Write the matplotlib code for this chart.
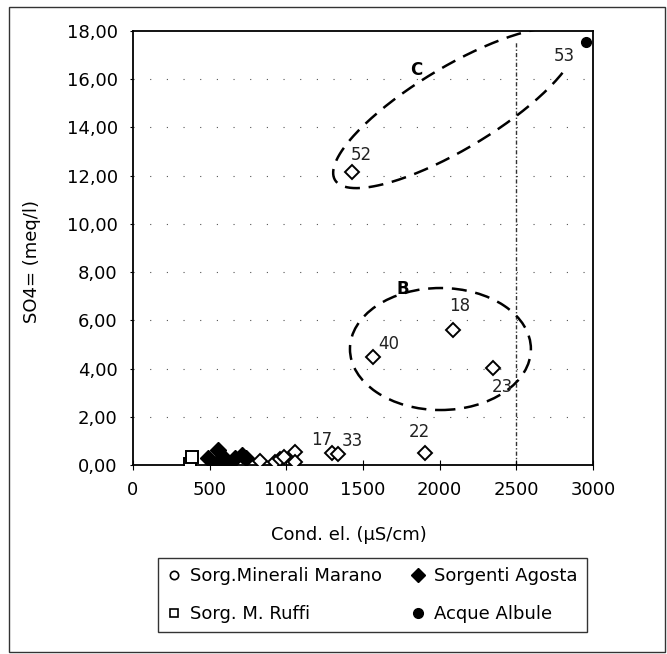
import numpy as np
import matplotlib
matplotlib.use('Agg')
import matplotlib.pyplot as plt
from matplotlib.lines import Line2D
from matplotlib.patches import Ellipse, Rectangle
from matplotlib.ticker import FuncFormatter

plt.rcParams['font.family'] = ['DejaVu Sans']

# Sorg. Minerali Marano (open diamonds)
marano_x = [828, 926, 959, 985, 1057, 1057, 1296, 1340, 1905, 1563, 2090, 2350, 1426]
marano_y = [0.18, 0.14, 0.24, 0.33, 0.55, 0.14, 0.51, 0.46, 0.51, 4.47, 5.61, 4.02, 12.17]
# Sorg. M. Ruffi (open squares)
ruffi_x = [372, 383]
ruffi_y = [0.05, 0.35]
# Sorgenti Agosta (filled diamonds)
agosta_x = [490, 545, 557, 589, 633, 665, 709, 600, 740]
agosta_y = [0.28, 0.07, 0.62, 0.35, 0.07, 0.28, 0.42, 0.2, 0.3]
# Acque Albule (filled circle)
albule_x = [2955]
albule_y = [17.55]

# point labels
lab_text = ['17', '33', '22', '40', '18', '23', '52', '53']
lab_x = [1230, 1430, 1870, 1670, 2130, 2410, 1490, 2810]
lab_y = [1.05, 0.98, 1.35, 5.0, 6.6, 3.25, 12.85, 16.95]

fig = plt.figure(figsize=(6.67, 6.54), dpi=100)
ax = fig.add_axes([133 / 667, 1 - 465 / 654, 460 / 667, 434 / 654])
ax.set_xlim(0, 3000)
ax.set_ylim(0, 18)

# sparse dotted gridlines
for yv in np.arange(2, 18, 2):
    ax.axhline(yv, color='#555555', lw=0.8, ls=(0, (1, 14)), zorder=0)

# dash-dot reference line at 2500
ax.plot([2500, 2500], [0, 17.6], color='#333333', lw=1.0, ls=(0, (3, 1.5, 1, 1.5)), zorder=1)

ax.plot(marano_x, marano_y, ls='none', marker='D', ms=7, mfc='white', mec='black', mew=1.4, zorder=3)
ax.plot(ruffi_x, ruffi_y, ls='none', marker='s', ms=8, mfc='white', mec='black', mew=1.4, zorder=3)
ax.plot(agosta_x, agosta_y, ls='none', marker='D', ms=8, mfc='black', mec='black', zorder=4)
ax.plot(albule_x, albule_y, ls='none', marker='o', ms=7, mfc='black', mec='black', zorder=4)

for t, xv, yv in zip(lab_text, lab_x, lab_y):
    ax.text(xv, yv, t, fontsize=12, ha='center', va='center', color='#222222')

# group B: dashed ellipse
ax.add_patch(Ellipse((2005, 4.81), 1180, 5.06, fill=False, ec='black', lw=1.8,
                     ls=(0, (6, 3.5)), zorder=2))
ax.text(1760, 7.3, 'B', fontsize=12, fontweight='bold', ha='center', va='center')

# group C: open tilted ellipse (drawn in pixel space)
sx = 460 / 3000
sy = 434 / 18
cx, cy = 2100, 14.81
a, b, ang = 140, 41, np.radians(31)
t = np.radians(np.linspace(33, 323, 200))
u = a * np.cos(t)
v = b * np.sin(t)
ex = cx + (u * np.cos(ang) - v * np.sin(ang)) / sx
ey = cy + (u * np.sin(ang) + v * np.cos(ang)) / sy
ax.plot(ex, ey, color='black', lw=1.8, ls=(0, (6, 3.5)), zorder=2)
ax.text(1850, 16.4, 'C', fontsize=12, fontweight='bold', ha='center', va='center')

ax.set_xticks(range(0, 3001, 500))
ax.set_yticks(np.arange(0, 18.1, 2))
ax.yaxis.set_major_formatter(FuncFormatter(lambda v, p: f'{v:.2f}'.replace('.', ',')))
ax.tick_params(axis='both', labelsize=13, colors='black')
ax.tick_params(axis='x', direction='inout', length=7, pad=8)
ax.tick_params(axis='y', length=2, pad=9)
for s in ax.spines.values():
    s.set_linewidth(1.3)

ax.set_xlabel('Cond. el. (\u03bcS/cm)', fontsize=13)
ax.set_ylabel('SO4= (meq/l)', fontsize=13)
ax.xaxis.set_label_coords(0.47, -0.14)
ax.yaxis.set_label_coords(-0.2, 0.47)

handles = [
    Line2D([], [], ls='none', marker='o', ms=6, mfc='white', mec='black', mew=1.2),
    Line2D([], [], ls='none', marker='s', ms=6, mfc='white', mec='black', mew=1.2),
    Line2D([], [], ls='none', marker='D', ms=7, mfc='black', mec='black'),
    Line2D([], [], ls='none', marker='o', ms=7, mfc='black', mec='black'),
]
labels = ['Sorg.Minerali Marano', 'Sorg. M. Ruffi', 'Sorgenti Agosta', 'Acque Albule']
leg = fig.legend(handles, labels, ncol=2, loc='upper left', mode='expand',
                 bbox_to_anchor=(158 / 667, 1 - 558 / 654, 429 / 667, 0), fontsize=13,
                 frameon=True, fancybox=False, edgecolor='black',
                 handlelength=0.8, handletextpad=0.5, columnspacing=1.0,
                 labelspacing=1.1, borderpad=0.5, borderaxespad=0)
leg.get_frame().set_linewidth(1.0)

# outer frame of the figure
fig.patches.append(Rectangle((9 / 667, 2 / 654), 656 / 667, 645 / 654,
                             transform=fig.transFigure, fill=False,
                             ec='#333333', lw=1.0))

fig.savefig('out.png', dpi=100)
